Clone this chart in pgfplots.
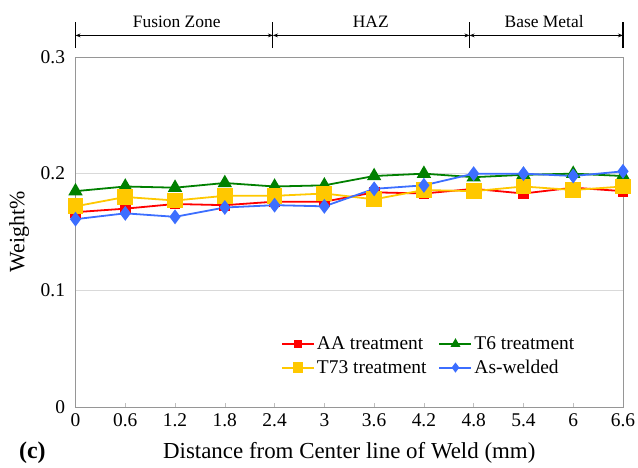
\documentclass[border=0pt]{standalone}
\usepackage{fontspec}
\setmainfont{Liberation Serif}
\usepackage{pgfplots}
\pgfplotsset{compat=1.18}
\usetikzlibrary{arrows.meta}
\definecolor{cRed}{RGB}{255,0,0}
\definecolor{cGreen}{RGB}{0,128,0}
\definecolor{cYel}{RGB}{255,200,0}
\definecolor{cBlue}{RGB}{60,110,255}
\definecolor{cAx}{RGB}{150,150,150}
\begin{document}
\begin{tikzpicture}[x=1bp,y=1bp]
\useasboundingbox (-75.5bp,-61bp) rectangle (562.5bp,407bp);
\begin{axis}[
  at={(0,0)}, anchor=south west,
  scale only axis, width=547.5bp, height=350bp,
  xmin=0, xmax=6.6, ymin=0, ymax=0.3,
  xtick={0,0.6,1.2,1.8,2.4,3,3.6,4.2,4.8,5.4,6,6.6},
  xticklabels={0,0.6,1.2,1.8,2.4,3,3.6,4.2,4.8,5.4,6,6.6},
  ytick={0,0.1,0.2,0.3},
  yticklabels={0,0.1,0.2,0.3},
  ymajorgrids, grid style={draw=black!15, line width=0.6pt},
  axis line style={draw=cAx, line width=0.8pt},
  x tick style={draw=black!25, line width=0.6pt},
  xtick pos=bottom, major tick length=4bp,
  ytick style={draw=none},
  tick label style={font=\fontsize{19.5}{21}\selectfont},
  xticklabel style={yshift=-3bp},
  yticklabel style={xshift=-7bp},
  /pgf/number format/assume math mode=true,
  xlabel={Distance from Center line of Weld (mm)},
  ylabel={Weight\%},
  xlabel style={font=\fontsize{23}{25}\selectfont, at={(axis description cs:0.5,-0.131)}, anchor=center},
  ylabel style={font=\fontsize{22}{24}\selectfont, at={(axis description cs:-0.103,0.5)}, anchor=center},
  clip=false,
  legend columns=2,
  legend cell align=left,
  legend style={draw=none, fill=none, at={(0.645,0.146)}, anchor=center,
     font=\fontsize{19.5}{21}\selectfont, /tikz/every even column/.append style={column sep=10bp},
     row sep=5bp},
  legend image code/.code={
     \draw[#1, line width=2pt] (0bp,0bp) -- (32bp,0bp);
     \draw[#1, only marks, every mark/.append style={scale=0.6}] plot coordinates {(16bp,0bp)};
  },
]
\addplot[color=cRed, line width=1.8pt, mark=square*, mark size=4.5bp, mark options={solid}]
 coordinates {(0,0.167)(0.6,0.170)(1.2,0.174)(1.8,0.173)(2.4,0.176)(3,0.176)(3.6,0.184)(4.2,0.183)(4.8,0.187)(5.4,0.183)(6,0.188)(6.6,0.185)};
\addlegendentry{AA treatment}
\addplot[color=cGreen, line width=1.8pt, mark=triangle*, mark size=6.5bp]
 coordinates {(0,0.185)(0.6,0.189)(1.2,0.188)(1.8,0.192)(2.4,0.189)(3,0.190)(3.6,0.198)(4.2,0.200)(4.8,0.197)(5.4,0.199)(6,0.200)(6.6,0.198)};
\addlegendentry{T6 treatment}
\addplot[color=cYel, line width=1.8pt, mark=square*, mark size=7bp]
 coordinates {(0,0.172)(0.6,0.180)(1.2,0.177)(1.8,0.181)(2.4,0.181)(3,0.183)(3.6,0.178)(4.2,0.186)(4.8,0.185)(5.4,0.189)(6,0.186)(6.6,0.189)};
\addlegendentry{T73 treatment}
\addplot[color=cBlue, line width=1.8pt, mark=diamond*, mark size=6bp]
 coordinates {(0,0.161)(0.6,0.166)(1.2,0.163)(1.8,0.171)(2.4,0.173)(3,0.172)(3.6,0.187)(4.2,0.190)(4.8,0.200)(5.4,0.200)(6,0.198)(6.6,0.202)};
\addlegendentry{As-welded}
% zone annotation
\draw[line width=1.1pt] (axis cs:0,0.3077) -- (axis cs:0,0.330);
\draw[line width=1.1pt] (axis cs:2.38,0.3077) -- (axis cs:2.38,0.330);
\draw[line width=1.1pt] (axis cs:4.75,0.3077) -- (axis cs:4.75,0.330);
\draw[line width=1.1pt] (axis cs:6.6,0.3077) -- (axis cs:6.6,0.330);
\draw[line width=1.1pt, {Stealth[length=5bp]}-{Stealth[length=5bp]}] (axis cs:0,0.3185) -- (axis cs:2.38,0.3185);
\draw[line width=1.1pt, {Stealth[length=5bp]}-{Stealth[length=5bp]}] (axis cs:2.38,0.3185) -- (axis cs:4.75,0.3185);
\draw[line width=1.1pt, {Stealth[length=5bp]}-{Stealth[length=5bp]}] (axis cs:4.75,0.3185) -- (axis cs:6.6,0.3185);
\node[font=\fontsize{17.5}{19}\selectfont] at (axis cs:1.22,0.3305) {Fusion Zone};
\node[font=\fontsize{17.5}{19}\selectfont] at (axis cs:3.56,0.3305) {HAZ};
\node[font=\fontsize{17.5}{19}\selectfont] at (axis cs:5.65,0.3305) {Base Metal};
\node[font=\bfseries\fontsize{24}{26}\selectfont] at (axis cs:-0.52,-0.0394) {(c)};
\end{axis}
\end{tikzpicture}
\end{document}
